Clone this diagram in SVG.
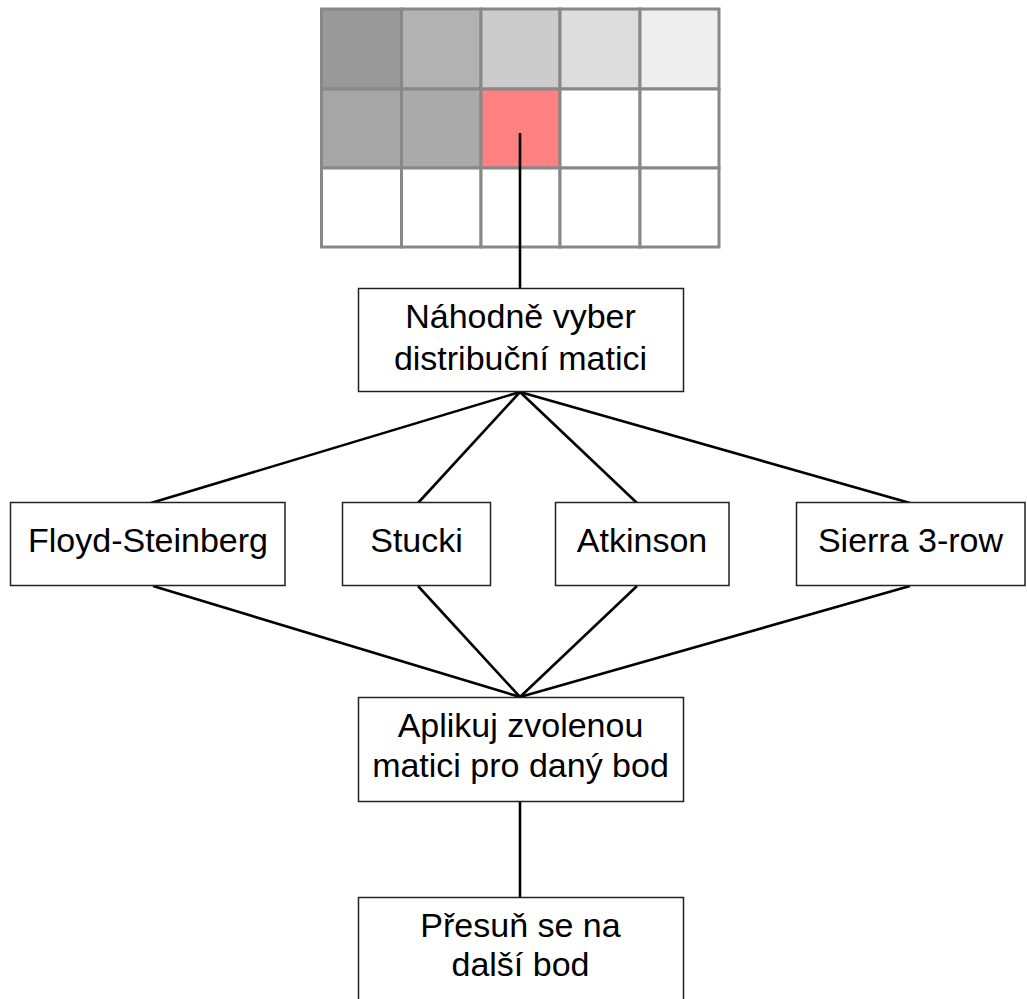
<svg xmlns="http://www.w3.org/2000/svg" width="1027" height="999" viewBox="0 0 1027 999">
<style>
.cell{stroke:#888888;stroke-width:3}
.box{fill:#ffffff;stroke:#222222;stroke-width:1.5}
.lbl{font-family:"Liberation Sans",Arial,sans-serif;font-size:34px;fill:#000000;text-anchor:middle}
.conn{stroke:#000000;stroke-width:2.6;fill:none}
</style>
<rect width="1027" height="999" fill="#ffffff"/>
<g id="grid">
<rect class="cell" x="321.5" y="9" width="80" height="80" fill="#999999"/>
<rect class="cell" x="401.5" y="9" width="79.5" height="80" fill="#b2b2b2"/>
<rect class="cell" x="481" y="9" width="79" height="80" fill="#cccccc"/>
<rect class="cell" x="560" y="9" width="80" height="80" fill="#dddddd"/>
<rect class="cell" x="640" y="9" width="79" height="80" fill="#eeeeee"/>
<rect class="cell" x="321.5" y="89" width="80" height="79" fill="#a6a6a6"/>
<rect class="cell" x="401.5" y="89" width="79.5" height="79" fill="#aaaaaa"/>
<rect class="cell" x="481" y="89" width="79" height="79" fill="#ff8080"/>
<rect class="cell" x="560" y="89" width="80" height="79" fill="#ffffff"/>
<rect class="cell" x="640" y="89" width="79" height="79" fill="#ffffff"/>
<rect class="cell" x="321.5" y="168" width="80" height="79" fill="#ffffff"/>
<rect class="cell" x="401.5" y="168" width="79.5" height="79" fill="#ffffff"/>
<rect class="cell" x="481" y="168" width="79" height="79" fill="#ffffff"/>
<rect class="cell" x="560" y="168" width="80" height="79" fill="#ffffff"/>
<rect class="cell" x="640" y="168" width="79" height="79" fill="#ffffff"/>
</g>
<g id="connectors">
<line class="conn" x1="520" y1="133" x2="520" y2="288"/>
<line class="conn" x1="520" y1="392" x2="151" y2="503"/>
<line class="conn" x1="520" y1="392" x2="418" y2="503"/>
<line class="conn" x1="520" y1="392" x2="637" y2="503"/>
<line class="conn" x1="520" y1="392" x2="910" y2="503"/>
<line class="conn" x1="153" y1="586" x2="520" y2="697"/>
<line class="conn" x1="418" y1="586" x2="520" y2="697"/>
<line class="conn" x1="637" y1="586" x2="520" y2="697"/>
<line class="conn" x1="910" y1="586" x2="520" y2="697"/>
<line class="conn" x1="520" y1="802" x2="520" y2="897"/>
</g>
<g id="node-select">
<rect class="box" x="358.5" y="288.5" width="325" height="103"/>
<text class="lbl" x="520.5" y="328">Náhodně vyber</text>
<text class="lbl" x="520.5" y="370">distribuční matici</text>
</g>
<g id="node-floyd">
<rect class="box" x="10.5" y="502.5" width="274.5" height="83"/>
<text class="lbl" x="148" y="552">Floyd-Steinberg</text>
</g>
<g id="node-stucki">
<rect class="box" x="342.5" y="502.5" width="148" height="83"/>
<text class="lbl" x="416.5" y="552">Stucki</text>
</g>
<g id="node-atkinson">
<rect class="box" x="555.5" y="502.5" width="173.5" height="83"/>
<text class="lbl" x="642" y="552">Atkinson</text>
</g>
<g id="node-sierra">
<rect class="box" x="796.5" y="502.5" width="228.5" height="83"/>
<text class="lbl" x="910.5" y="552">Sierra 3-row</text>
</g>
<g id="node-apply">
<rect class="box" x="358.5" y="697.5" width="325" height="104"/>
<text class="lbl" x="520.5" y="737">Aplikuj zvolenou</text>
<text class="lbl" x="520.5" y="777">matici pro daný bod</text>
</g>
<g id="node-next">
<rect class="box" x="358.5" y="897.5" width="325" height="120"/>
<text class="lbl" x="520.5" y="937">Přesuň se na</text>
<text class="lbl" x="520.5" y="976">další bod</text>
</g>
</svg>
